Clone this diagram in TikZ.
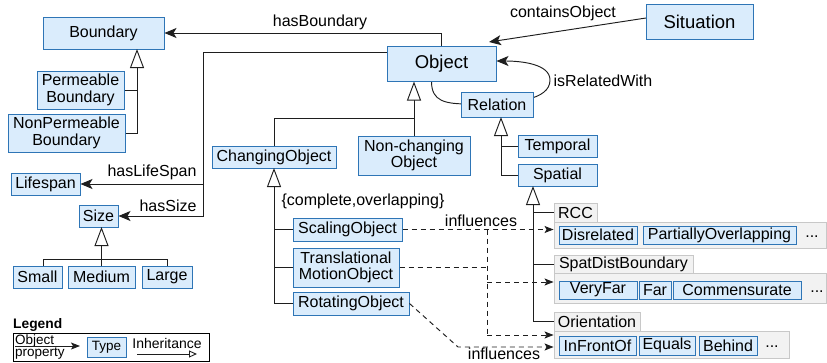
\documentclass[tikz,border=0pt]{standalone}
\usepackage{fontspec}
\setmainfont{Liberation Sans}
\usetikzlibrary{arrows.meta,backgrounds}
\definecolor{cfill}{RGB}{218,236,252}
\definecolor{cdraw}{RGB}{46,117,182}
\definecolor{gfill}{RGB}{242,242,242}
\definecolor{gdraw}{RGB}{200,200,200}
\definecolor{lcol}{RGB}{30,30,30}
\begin{document}
\begin{tikzpicture}[x=1pt,y=-1pt,
  font=\fontsize{16}{16.5}\selectfont,
  sz/.style 2 args={minimum width=#1pt, minimum height=#2pt},
  cls/.style={draw=cdraw, fill=cfill, line width=1pt, inner sep=0pt, align=center},
  grp/.style={draw=gdraw, fill=gfill, line width=0.9pt, inner sep=0pt},
  big/.style={font=\fontsize{18.5}{20}\selectfont},
  conn/.style={draw=lcol, line width=0.95pt},
  obj/.style={conn, -{Stealth[length=12pt,width=10pt,inset=3pt]}},
  inh/.style={conn, -{Triangle[open,length=19pt,width=14pt,fill=white]}},
  dline/.style={conn, dash pattern=on 5pt off 4pt},
  dep/.style={dline, -{Stealth[length=9pt,width=7pt,inset=2pt]}},
  lbl/.style={inner sep=0pt}
]
\useasboundingbox (0,0) rectangle (827,362);

% ---- class nodes
\node[cls,sz={121}{32}] (boundary) at (103.5,33) {Boundary};
\node[cls,sz={87}{38}] (perm) at (80.5,90) {Permeable\\Boundary};
\node[cls,sz={117}{38}] (nonperm) at (66.5,133) {NonPermeable\\Boundary};
\node[cls,big,sz={109}{35}] (object) at (441.5,63.5) {Object};
\node[cls,big,sz={107}{35}] (situation) at (699.5,21.5) {Situation};
\node[cls,sz={72}{25}] (relation) at (497,104.5) {Relation};
\node[cls,sz={79}{22}] (temporal) at (557.5,146) {Temporal};
\node[cls,sz={79}{22}] (spatial) at (557.5,175) {Spatial};
\node[cls,sz={124}{22}] (changing) at (274,157) {ChangingObject};
\node[cls,sz={112}{39}] (nonchanging) at (414,155.5) {Non-changing\\Object};
\node[cls,sz={69}{22}] (lifespan) at (45.5,184) {Lifespan};
\node[cls,sz={39}{22}] (size) at (98.5,216) {Size};
\node[cls,sz={49}{22}] (small) at (37.5,277) {Small};
\node[cls,sz={67}{22}] (medium) at (101.5,277) {Medium};
\node[cls,sz={50}{22}] (large) at (167,277) {Large};
\node[cls,sz={109}{23}] (scaling) at (347.5,229.5) {ScalingObject};
\node[cls,sz={106}{39}] (transl) at (346,267.5) {Translational\\MotionObject};
\node[cls,sz={116}{23}] (rotating) at (351,303.5) {RotatingObject};

% ---- groups
\node[grp,sz={272}{26}] (rcc) at (690,235) {};
\node[grp,sz={43}{19}] (rcclabel) at (575.5,212.5) {RCC};
\node[cls,sz={78}{18}] (disrel) at (598,235) {Disrelated};
\node[cls,sz={153}{18}] (partial) at (719.5,235) {PartiallyOverlapping};
\node[lbl] (dots1) at (812,237) {...};

\node[grp,sz={272}{30}] (sdb) at (690,288) {};
\node[grp,sz={139}{18}] (sdblabel) at (623.5,264.5) {SpatDistBoundary};
\node[cls,sz={78}{18}] (veryfar) at (598,290) {VeryFar};
\node[cls,sz={32}{18}] (far) at (655,290) {Far};
\node[cls,sz={128}{18}] (commens) at (737,290) {Commensurate};
\node[lbl] (dots2) at (817,292) {...};

\node[grp,sz={235}{27}] (ori) at (671.5,344.5) {};
\node[grp,sz={86}{19}] (orilabel) at (597,321.5) {Orientation};
\node[cls,sz={77}{19}] (infront) at (597.5,345.5) {InFrontOf};
\node[cls,sz={56}{19}] (equals) at (667,345.5) {Equals};
\node[cls,sz={58}{19}] (behind) at (728,345.5) {Behind};
\node[lbl] (dots3) at (772,347) {...};

% ---- inheritance
\coordinate (bx) at (137,49);
\draw[inh] (nonperm.east) -| (bx);
\draw[conn] (perm.east) -- (perm.east -| bx);

\coordinate (oj) at (414,118);
\draw[inh] (nonchanging.north) -- (nonchanging.north |- object.south);
\draw[conn] (changing.north) |- (oj);

\coordinate (rx) at (501,117);
\draw[inh] (spatial.west) -| (rx);
\draw[conn] (temporal.west) -- (temporal.west -| rx);

\coordinate (sx) at (533,186);
\draw[inh] (orilabel.west) -| (sx);
\draw[conn] (rcclabel.west) -- (rcclabel.west -| sx);
\draw[conn] (sdblabel.west) -- (sdblabel.west -| sx);

\coordinate (zx) at (101.5,227);
\coordinate (sm) at (43,259);
\draw[inh] (medium.north) -- (zx);
\draw[conn] (sm |- small.north) -- (sm) -| (large.north);

\coordinate (cx) at (274,168);
\draw[inh] (rotating.west) -| (cx);
\draw[conn] (scaling.west) -- (scaling.west -| cx);
\draw[conn] (transl.west) -- (transl.west -| cx);

% ---- object properties
\draw[obj] (object.north) |- (boundary.east);
\node[lbl] (lhasb) at (320,22) {hasBoundary};

\coordinate (ov) at (203,52);
\draw[obj] (object.west |- ov) -- (ov) |- (size.east);
\draw[obj] (ov |- lifespan.east) -- (lifespan.east);
\node[lbl] (lhasl) at (152,172) {hasLifeSpan};
\node[lbl] (lhass) at (168,206) {hasSize};

\coordinate (sc) at (646,18);
\coordinate (co) at (489,42);
\draw[obj] (sc) -- (co);
\node[lbl] (lcont) at (563,13) {containsObject};

\begin{pgfonlayer}{background}
\draw[obj] ([xshift=-10pt]object.south) .. controls +(0,20) and +(-25,0) .. (470,104)
  .. controls +(45,0) and +(0,20) .. (550,80)
  .. controls +(0,-16) and +(25,0) .. ([yshift=2.5pt]object.east);
\end{pgfonlayer}
\node[lbl] (lisrel) at (603,81) {isRelatedWith};

\node[lbl] (lcompl) at (363,201) {\{complete,overlapping\}};

% ---- influences
\coordinate (dv) at (487,229);
\coordinate (dv1) at (487,282);
\coordinate (dv2) at (487,335);
\coordinate (rk) at (458,347);
\draw[dep] (scaling.east) -- (scaling.east -| rcc.west);
\draw[dline] (dv |- scaling.east) -- (dv2);
\draw[dep] (dv1) -- (dv1 -| sdb.west);
\draw[dep] (dv2) -- (dv2 -| ori.west);
\draw[dline] (transl.east) -- (transl.east -| dv);
\draw[dep] (rotating.east) -- (rk) -- (rk -| ori.west);
\node[lbl] (inf1) at (481,221) {influences};
\node[lbl] (inf2) at (504,354) {influences};

% ---- legend
\node[lbl, anchor=west, font=\bfseries\fontsize{13.8}{14}\selectfont] (legend) at (13,325) {Legend};
\node[draw=black, line width=0.9pt, sz={196}{28}, inner sep=0pt] (legbox) at (111,347) {};
\node[lbl, anchor=west, align=left, font=\fontsize{13.5}{11.5}\selectfont] (legop) at (15,347) {Object\\property};
\coordinate (la1) at (15,346);
\coordinate (la2) at (80,346);
\draw[conn, line width=0.9pt, -{Stealth[length=9pt,width=7pt,inset=2pt]}] (la1) -- (la2);
\node[cls, sz={39}{20}, font=\fontsize{13.5}{14}\selectfont] (legtype) at (106.5,347) {Type};
\node[lbl, font=\fontsize{14}{15}\selectfont] (leginh) at (167,343) {Inheritance};
\coordinate (li1) at (137,354);
\coordinate (li2) at (197,354);
\draw[conn, line width=0.9pt, -{Triangle[open,length=8pt,width=7pt,fill=white]}] (li1) -- (li2);
\end{tikzpicture}
\end{document}
